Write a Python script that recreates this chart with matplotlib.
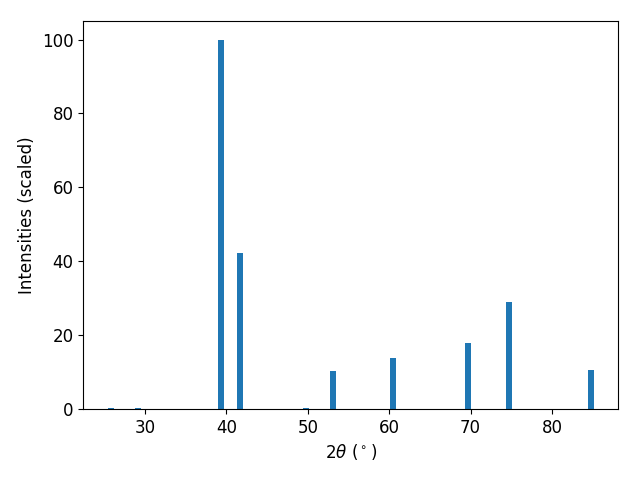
import matplotlib
matplotlib.use("Agg")
import matplotlib.pyplot as plt

# peak positions (2theta, degrees) and scaled intensities
two_theta = [25.77, 29.16, 39.35, 41.72, 49.76, 53.11, 60.47, 69.73, 74.72, 84.79]
intensity = [0.3, 0.3, 100.0, 42.3, 0.3, 10.3, 13.8, 17.9, 29.0, 10.6]

fig, ax = plt.subplots(figsize=(6.4, 4.8), dpi=100)
ax.bar(two_theta, intensity, width=0.75, color="#1f77b4")
ax.set_xlabel(r"$2\theta$ ($^\circ$)", fontsize=12)
ax.set_ylabel("Intensities (scaled)", fontsize=12)
ax.tick_params(labelsize=12)
fig.subplots_adjust(left=0.13, right=0.966, top=0.956, bottom=0.148)
fig.savefig("out.png", dpi=100)
